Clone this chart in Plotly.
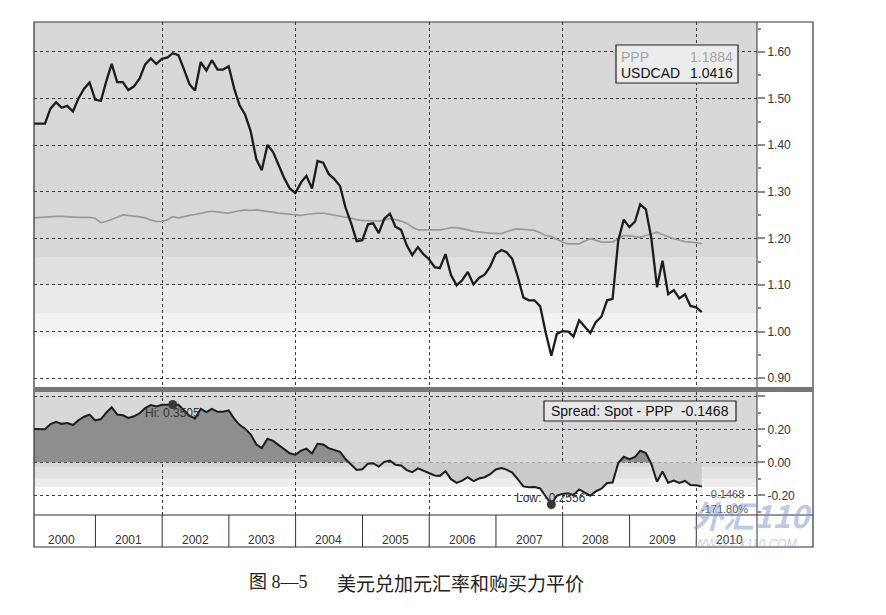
import plotly.graph_objects as go
import pandas as pd

# ---------------- data (monthly, Jan 2000 - Jan 2010) ----------------
usdcad = [
    1.446, 1.446, 1.446, 1.478, 1.492, 1.480, 1.484, 1.472, 1.500, 1.521, 1.534, 1.497,
    1.495, 1.535, 1.574, 1.535, 1.535, 1.518, 1.526, 1.543, 1.573, 1.586, 1.574, 1.585,
    1.588, 1.597, 1.593, 1.563, 1.530, 1.517, 1.578, 1.560, 1.582, 1.562, 1.562, 1.569,
    1.520, 1.486, 1.465, 1.430, 1.370, 1.346, 1.400, 1.385, 1.358, 1.329, 1.307, 1.297,
    1.320, 1.334, 1.307, 1.366, 1.362, 1.338, 1.327, 1.312, 1.266, 1.232, 1.194, 1.196,
    1.230, 1.232, 1.211, 1.242, 1.253, 1.225, 1.218, 1.185, 1.164, 1.181, 1.166, 1.155,
    1.138, 1.136, 1.166, 1.121, 1.099, 1.110, 1.128, 1.101, 1.115, 1.122, 1.139, 1.167,
    1.175, 1.170, 1.156, 1.118, 1.073, 1.067, 1.067, 1.054, 0.998, 0.948, 0.995, 1.001,
    1.000, 0.989, 1.024, 1.010, 0.997, 1.020, 1.032, 1.067, 1.070, 1.195, 1.240, 1.224,
    1.236, 1.273, 1.262, 1.200, 1.095, 1.152, 1.080, 1.089, 1.071, 1.080, 1.055, 1.052,
    1.0416,
]
ppp = [
    1.244, 1.245, 1.246, 1.246, 1.247, 1.247, 1.246, 1.246, 1.245, 1.245, 1.245, 1.243,
    1.233, 1.236, 1.240, 1.245, 1.250, 1.249, 1.247, 1.246, 1.244, 1.239, 1.236, 1.236,
    1.240, 1.2465, 1.244, 1.247, 1.249, 1.251, 1.254, 1.256, 1.258, 1.256, 1.255, 1.254,
    1.257, 1.259, 1.261, 1.260, 1.261, 1.259, 1.257, 1.255, 1.254, 1.253, 1.252, 1.251,
    1.249, 1.251, 1.253, 1.254, 1.254, 1.252, 1.250, 1.248, 1.246, 1.243, 1.240, 1.238,
    1.238, 1.237, 1.237, 1.239, 1.242, 1.240, 1.237, 1.232, 1.224, 1.218, 1.218, 1.219,
    1.218, 1.218, 1.220, 1.223, 1.223, 1.221, 1.218, 1.215, 1.213, 1.212, 1.211, 1.210,
    1.210, 1.214, 1.218, 1.220, 1.219, 1.218, 1.217, 1.212, 1.206, 1.2036, 1.197, 1.192,
    1.188, 1.188, 1.188, 1.194, 1.199, 1.196, 1.192, 1.192, 1.192, 1.199, 1.206, 1.205,
    1.203, 1.202, 1.206, 1.210, 1.213, 1.208, 1.203, 1.199, 1.196, 1.193, 1.192, 1.191,
    1.1884,
]
years = [2000, 2001, 2002, 2003, 2004, 2005, 2006, 2007, 2008, 2009, 2010]
top_ticks = [0.90, 1.00, 1.10, 1.20, 1.30, 1.40, 1.50, 1.60]
bot_ticks = [-0.20, 0.00, 0.20, 0.40]
bot_ticktext = ["-0.20", "0.00", "0.20", ""]

legend_ppp = "1.1884"
legend_usd = "1.0416"
spread_label = "Spread: Spot - PPP\u00a0\u00a0-0.1468"
hi_label = "Hi: 0.3505"
low_label = "Low: -0.2556"
last_label = "-0.1468"
pct_label = "-171.80%"
caption_num = "图 8—5"
caption_txt = "美元兑加元汇率和购买力平价"

dates = pd.date_range(start="2000-01-31", periods=len(usdcad),
                      freq=pd.offsets.MonthEnd()).strftime("%Y-%m-%d").tolist()
spread = [round(a - b, 4) for a, b in zip(usdcad, ppp)]
pos = [max(s, 0.0) for s in spread]
neg = [min(s, 0.0) for s in spread]
ih = spread.index(max(spread))
il = spread.index(min(spread))

# ---------------- geometry helpers (page has an 8px body margin) ----------------
OFF = 8
W, H = 886 - 2 * OFF, 615 - 2 * OFF
def fx(p): return (p - OFF) / W
def fy(p): return 1 - (p - OFF) / H

X0, X1 = 34, 757
FR = 813
TOP0, TOP1 = 22, 387
BOT0, BOT1 = 392, 515
STRIP = 547
XR = ["2000-01-31", "2010-11-29"]
FONT = "Liberation Sans, Arial, sans-serif"

fig = go.Figure()
fig.add_trace(go.Scatter(x=dates, y=ppp, mode="lines", name="PPP",
                         line=dict(color="#9a9a9a", width=1.7), xaxis="x", yaxis="y"))
fig.add_trace(go.Scatter(x=dates, y=usdcad, mode="lines", name="USDCAD",
                         line=dict(color="#1c1c1c", width=2.3), xaxis="x", yaxis="y"))
fig.add_trace(go.Scatter(x=dates, y=pos, mode="lines", fill="tozeroy", fillcolor="#8e8e8e",
                         line=dict(width=0), xaxis="x2", yaxis="y2"))
fig.add_trace(go.Scatter(x=dates, y=neg, mode="lines", fill="tozeroy", fillcolor="#cbcbcb",
                         line=dict(width=0), xaxis="x2", yaxis="y2"))
fig.add_trace(go.Scatter(x=dates, y=spread, mode="lines",
                         line=dict(color="#1c1c1c", width=2), xaxis="x2", yaxis="y2"))
fig.add_trace(go.Scatter(x=[dates[ih], dates[il]], y=[spread[ih], spread[il]], mode="markers",
                         marker=dict(color="#383838", size=9), xaxis="x2", yaxis="y2"))

grid = dict(showgrid=True, gridcolor="#3a3a3a", gridwidth=1, griddash="dot", zeroline=False)
xcommon = dict(type="date", range=XR, domain=[fx(X0), fx(X1)], tick0="2000-01-01",
               dtick="M24", showticklabels=False, ticks="", showline=False,
               automargin=False, **grid)
ycommon = dict(side="right", showline=False, ticks="outside", ticklen=7, tickwidth=2,
               tickcolor="#8a8a8a", tickfont=dict(family=FONT, size=12, color="#333"),
               automargin=False, **grid)

fig.update_layout(
    width=W, height=H, autosize=False, template="none",
    margin=dict(l=0, r=0, t=0, b=0),
    paper_bgcolor="white", plot_bgcolor="white", showlegend=False,
    xaxis=dict(anchor="y", **xcommon),
    xaxis2=dict(anchor="y2", **xcommon),
    yaxis=dict(anchor="x", domain=[fy(TOP1), fy(TOP0)], range=[0.881, 1.664],
               tickvals=top_ticks, tickformat=".2f",
               minor=dict(dtick=0.05, tick0=0, ticks="outside", ticklen=3, tickcolor="#8a8a8a",
                          showgrid=False), **ycommon),
    yaxis2=dict(anchor="x2", domain=[fy(BOT1), fy(BOT0)], range=[-0.319, 0.426],
                tickvals=bot_ticks, ticktext=bot_ticktext,
                minor=dict(dtick=0.1, tick0=0, ticks="outside", ticklen=3, tickcolor="#8a8a8a",
                           showgrid=False), **ycommon),
)

shapes = []
# panel backgrounds (gradient-like bands)
for lo, hi, col in [(1.16, 1.664, "#d8d8d8"), (1.10, 1.16, "#e0e0e0"),
                    (1.04, 1.10, "#eaeaea"), (0.99, 1.04, "#f3f3f3")]:
    shapes.append(dict(type="rect", xref="paper", yref="y", x0=fx(X0), x1=fx(X1), y0=lo, y1=hi,
                       fillcolor=col, line=dict(width=0), layer="below"))
for lo, hi, col in [(-0.03, 0.426, "#d8d8d8"), (-0.10, -0.03, "#e2e2e2"),
                    (-0.15, -0.10, "#eeeeee")]:
    shapes.append(dict(type="rect", xref="paper", yref="y2", x0=fx(X0), x1=fx(X1), y0=lo, y1=hi,
                       fillcolor=col, line=dict(width=0), layer="below"))
# frame
shapes.append(dict(type="rect", xref="paper", yref="paper", x0=fx(X0), x1=fx(FR), y0=fy(STRIP),
                   y1=fy(TOP0), line=dict(color="#333", width=1.2)))
shapes.append(dict(type="line", xref="paper", yref="paper", x0=fx(X1), x1=fx(X1), y0=fy(STRIP),
                   y1=fy(TOP0), line=dict(color="#333", width=1)))
shapes.append(dict(type="rect", xref="paper", yref="paper", x0=fx(X0), x1=fx(FR), y0=fy(BOT0),
                   y1=fy(TOP1), fillcolor="#777777", line=dict(width=0)))
shapes.append(dict(type="line", xref="paper", yref="paper", x0=fx(X0), x1=fx(FR), y0=fy(BOT1),
                   y1=fy(BOT1), line=dict(color="#333", width=1.2)))
for yr in years[1:]:
    shapes.append(dict(type="line", xref="x2", yref="paper", x0=f"{yr}-01-01", x1=f"{yr}-01-01",
                       y0=fy(STRIP), y1=fy(BOT1), line=dict(color="#333", width=1)))
# legend box and spread box
shapes.append(dict(type="rect", xref="paper", yref="paper", x0=fx(616), x1=fx(738), y0=fy(83),
                   y1=fy(45), fillcolor="#ececec", line=dict(color="#222", width=1.2)))
shapes.append(dict(type="rect", xref="paper", yref="paper", x0=fx(544), x1=fx(736), y0=fy(421),
                   y1=fy(401), fillcolor="#e6e6e6", line=dict(color="#222", width=1.2)))
fig.update_layout(shapes=shapes)

ann = []
def txt(x, y, t, size=12, color="#333", xanchor="center", family=FONT, **kw):
    d = dict(xref="paper", yref="paper", x=fx(x), y=fy(y), text=t, showarrow=False,
             xanchor=xanchor, yanchor="middle", font=dict(family=family, size=size, color=color))
    d.update(kw)
    ann.append(d)

for yr in years:
    ann.append(dict(xref="x2", yref="paper", x=f"{yr}-07-01", y=fy(540), text=str(yr),
                    showarrow=False, yanchor="middle",
                    font=dict(family=FONT, size=12, color="#333")))
txt(619, 57, "PPP", 14, "#a5a5a5", "left")
txt(735, 57, legend_ppp, 14, "#a5a5a5", "right")
txt(619, 73, "USDCAD", 14, "#111", "left")
txt(735, 73, legend_usd, 14, "#111", "right")
txt(640, 411, spread_label, 14, "#111")
ann.append(dict(xref="x2", yref="y2", x=dates[ih], y=spread[ih], text=hi_label, showarrow=False,
                yshift=-9, font=dict(family=FONT, size=12, color="#333")))
ann.append(dict(xref="x2", yref="y2", x=dates[il], y=spread[il], text=low_label, showarrow=False,
                yshift=7, font=dict(family=FONT, size=12, color="#333")))
txt(725, 494, last_label, 11, "#555")
txt(724, 509, pct_label, 11, "#555")
# watermark
txt(752, 514, "<b><i>外汇110</i></b>", 31, "rgba(120,150,205,0.5)", family="Noto Sans CJK SC")
txt(745, 544, "<i>WWW.FX110.COM</i>", 12, "rgba(140,165,210,0.55)")
# caption
txt(247, 582, caption_num, 18, "#222", "left", family="Liberation Serif, Noto Sans CJK SC")
txt(335, 582, caption_txt, 19, "#222", "left", family="Noto Sans CJK SC")
fig.update_layout(annotations=ann)

fig.write_html("out.html")
